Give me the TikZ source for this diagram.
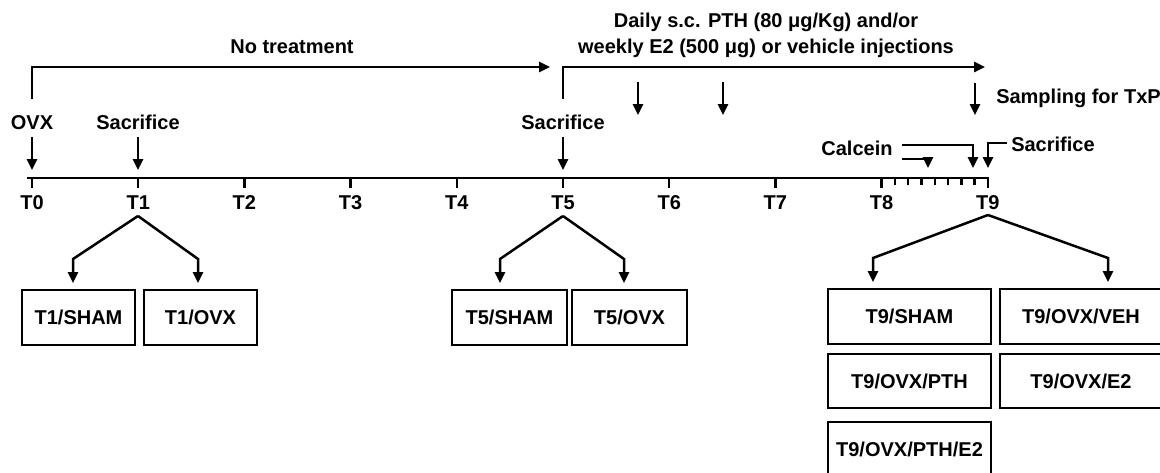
\documentclass[tikz,border=0pt]{standalone}
\usepackage{fontspec}
\setmainfont{Liberation Sans}
\usetikzlibrary{arrows.meta}
\begin{document}
\begin{tikzpicture}[x=1pt,y=-1pt,line width=2.5pt,
  lbl/.style={font=\bfseries\fontsize{20}{24}\selectfont,inner sep=0pt,anchor=base},
  arr/.style={-{Triangle[length=11pt,width=10pt]}},
  gbox/.style={draw,line width=2.5pt,inner sep=0pt,font=\bfseries\fontsize{20}{24}\selectfont,minimum height=55pt}]
\useasboundingbox (0,0) rectangle (1160,472);
\clip (0,0) rectangle (1160,472);

% timeline
\foreach \i in {0,...,9} {
  \coordinate (T\i) at ({32+106.2*\i},178);
  \draw (T\i) -- ++(0,10);
  \node[lbl] (L\i) at ({32+106.2*\i},209) {T\i};
}
\draw (27,178) -- ([xshift=1.2pt]T9);
\foreach \k in {1,...,7} \draw ({881.6+\k*13.3},178) -- ++(0,7);

% top brackets
\coordinate (b0s) at (32,99);
\coordinate (b0e) at (550,67);
\draw[arr] (b0s) |- (b0e);
\node[lbl] (nt) at (292,53) {No treatment};
\coordinate (b5s) at (563,99);
\coordinate (b5e) at (985,67);
\draw[arr] (b5s) |- (b5e);
\node[lbl] (d1) at (766,27) {Daily s.c. PTH (80 μg/Kg) and/or};
\node[lbl] (d2) at (766,53) {weekly E2 (500 μg) or vehicle injections};

% injection arrows
\coordinate (i1s) at (638,82); \coordinate (i1e) at (638,115);
\coordinate (i2s) at (723,82); \coordinate (i2e) at (723,115);
\coordinate (i3s) at (975,83); \coordinate (i3e) at (975,115);
\draw[arr] (i1s) -- (i1e);
\draw[arr] (i2s) -- (i2e);
\draw[arr] (i3s) -- (i3e);
\node[lbl,anchor=base west] (samp) at (995,103) {Sampling for TxP};

% event labels
\node[lbl] (ovx) at (32,129) {OVX};
\node[lbl] (s1) at (138,129) {Sacrifice};
\node[lbl] (s5) at (563,129) {Sacrifice};
\coordinate (a0) at (32,170);
\coordinate (a1) at (138,170);
\coordinate (a5) at (563,170);
\draw[arr] (32,137) -- (a0);
\draw[arr] (138,137) -- (a1);
\draw[arr] (563,137) -- (a5);

% calcein and final sacrifice
\node[lbl] (calc) at (857,155) {Calcein};
\coordinate (c1s) at (902,145); \coordinate (c1e) at (973,168);
\coordinate (c2s) at (902,159); \coordinate (c2e) at (928,168);
\draw[arr] (c1s) -| (c1e);
\draw[arr] (c2s) -| (c2e);
\node[lbl,anchor=base west] (s9) at (1010,151) {Sacrifice};
\coordinate (s9s) at (1007,143); \coordinate (s9e) at (988,168);
\draw[arr] (s9s) -| (s9e);

% boxes
\node[gbox,minimum width=113pt] (t1sham) at (78.5,317.5) {T1/SHAM};
\node[gbox,minimum width=113pt] (t1ovx) at (200.5,317.5) {T1/OVX};
\node[gbox,minimum width=115pt] (t5sham) at (509.5,317.5) {T5/SHAM};
\node[gbox,minimum width=115pt] (t5ovx) at (629.5,317.5) {T5/OVX};
\node[gbox,minimum width=163pt] (t9sham) at (909.5,316.5) {T9/SHAM};
\node[gbox,minimum width=162pt] (t9veh) at (1081,316.5) {T9/OVX/VEH};
\node[gbox,minimum width=163pt,minimum height=54pt] (t9pth) at (909.5,381) {T9/OVX/PTH};
\node[gbox,minimum width=162pt,minimum height=54pt] (t9e2) at (1081,381) {T9/OVX/E2};
\node[gbox,minimum width=163pt] (t9pe) at (909.5,449.5) {T9/OVX/PTH/E2};

% branches
\coordinate (p1) at (138,216);
\coordinate (p5) at (563,216);
\coordinate (p9) at (988,215);
\draw[arr] (p1) -- (73,259) -- (73,283);
\draw[arr] (p1) -- (198,259) -- (198,283);
\draw[arr] (p5) -- (500,259) -- (500,283);
\draw[arr] (p5) -- (624,259) -- (624,283);
\draw[arr] (p9) -- (873,258) -- (873,282);
\draw[arr] (p9) -- (1108,258) -- (1108,282);
\end{tikzpicture}
\end{document}
